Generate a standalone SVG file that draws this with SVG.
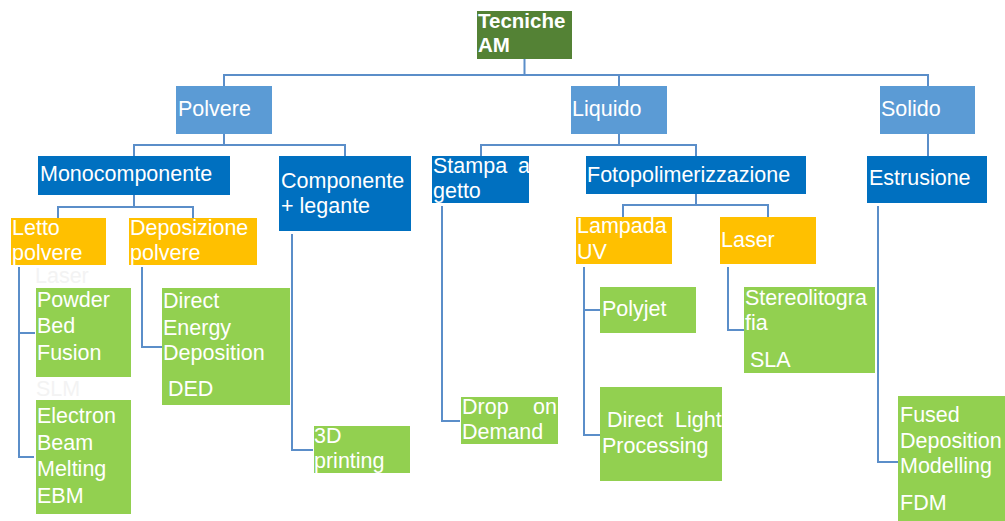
<svg xmlns="http://www.w3.org/2000/svg" width="1005" height="521" viewBox="0 0 1005 521">
<style>
text{font-family:"Liberation Sans",Arial,sans-serif;font-size:21.5px;fill:#ffffff}
.root{fill:#548235}
.l1{fill:#5b9bd5}
.l2{fill:#0070c0}
.l3{fill:#ffc000}
.l4{fill:#92d050}
.b{font-weight:bold;font-size:20.5px}
.faint{fill:#f3f3f3}
.conn path{fill:none;stroke:#5b8ec9;stroke-width:2}
</style>
<rect width="1005" height="521" fill="#ffffff"/>
<g class="conn" id="connectors">
<path d="M524.5 59V75M224 86V75H928V86M619 75V86"/>
<path d="M224 134V145M134 156V145H345V156"/>
<path d="M619 134V145M481 156V145H696V156"/>
<path d="M928 134V156"/>
<path d="M134 195V207M58 218V207H193V218"/>
<path d="M696 194V205M623 217V205H768V217"/>
<path d="M19 267V457H34M19 333H35"/>
<path d="M142 267V347H162"/>
<path d="M292 234V450H313"/>
<path d="M442 206V421H460"/>
<path d="M584 267V435H600M584 310H600"/>
<path d="M728 267V330H744"/>
<path d="M878 206V462H898"/>
</g>
<g id="root"><rect class="root" x="477" y="11" width="95" height="48"/><text class="b" x="478" y="28">Tecniche</text><text class="b" x="478" y="52">AM</text></g>
<g id="polvere"><rect class="l1" x="176" y="86" width="96" height="48"/><text x="178" y="116">Polvere</text></g>
<g id="liquido"><rect class="l1" x="571" y="86" width="96" height="48"/><text x="572" y="116">Liquido</text></g>
<g id="solido"><rect class="l1" x="880" y="86" width="95" height="48"/><text x="881" y="116">Solido</text></g>
<g id="monocomponente"><rect class="l2" x="38" y="156" width="192" height="39"/><text x="40" y="181">Monocomponente</text></g>
<g id="componente-legante"><rect class="l2" x="279" y="156" width="132" height="75"/><text x="281" y="188">Componente</text><text x="281" y="213">+ legante</text></g>
<g id="stampa-getto"><rect class="l2" x="432" y="156" width="97" height="47"/><text x="433" y="173">Stampa</text><text x="518" y="173">a</text><text x="433" y="198">getto</text></g>
<g id="fotopolimerizzazione"><rect class="l2" x="586" y="156" width="220" height="38"/><text x="587" y="182">Fotopolimerizzazione</text></g>
<g id="estrusione"><rect class="l2" x="867" y="156" width="120" height="47"/><text x="869" y="185">Estrusione</text></g>
<g id="letto-polvere"><rect class="l3" x="11" y="218" width="95" height="47"/><text x="12" y="235">Letto</text><text x="12" y="260">polvere</text></g>
<g id="deposizione-polvere"><rect class="l3" x="129" y="218" width="128" height="47"/><text x="130" y="235">Deposizione</text><text x="130" y="260">polvere</text></g>
<g id="lampada-uv"><rect class="l3" x="576" y="217" width="96" height="47"/><text x="577" y="233">Lampada</text><text x="577" y="259">UV</text></g>
<g id="laser"><rect class="l3" x="720" y="217" width="96" height="47"/><text x="721" y="247">Laser</text></g>
<g id="faint-labels"><text class="faint" x="35" y="283">Laser</text><text class="faint" x="36" y="396">SLM</text></g>
<g id="powder-bed-fusion"><rect class="l4" x="36" y="288" width="95" height="89"/><text x="37" y="307">Powder</text><text x="37" y="333">Bed</text><text x="37" y="360">Fusion</text></g>
<g id="ebm"><rect class="l4" x="36" y="400" width="95" height="114"/><text x="37" y="423">Electron</text><text x="37" y="450">Beam</text><text x="37" y="476">Melting</text><text x="37" y="503">EBM</text></g>
<g id="ded"><rect class="l4" x="162" y="288" width="128" height="117"/><text x="163" y="308">Direct</text><text x="163" y="335">Energy</text><text x="163" y="360">Deposition</text><text x="168" y="396">DED</text></g>
<g id="printing-3d"><rect class="l4" x="314" y="426" width="96" height="47"/><text x="314" y="443">3D</text><text x="314" y="468">printing</text></g>
<g id="drop-on-demand"><rect class="l4" x="461" y="397" width="97" height="47"/><text x="462" y="414">Drop</text><text x="533" y="414">on</text><text x="462" y="439">Demand</text></g>
<g id="polyjet"><rect class="l4" x="600" y="287" width="96" height="46"/><text x="602" y="316">Polyjet</text></g>
<g id="dlp"><rect class="l4" x="600" y="387" width="122" height="94"/><text x="607" y="427">Direct</text><text x="675" y="427">Light</text><text x="602" y="453">Processing</text></g>
<g id="sla"><rect class="l4" x="744" y="287" width="131" height="86"/><text x="745" y="305">Stereolitogra</text><text x="745" y="330">fia</text><text x="750" y="367">SLA</text></g>
<g id="fdm"><rect class="l4" x="898" y="396" width="107" height="125"/><text x="900" y="422">Fused</text><text x="900" y="448">Deposition</text><text x="900" y="473">Modelling</text><text x="900" y="510">FDM</text></g>
</svg>
